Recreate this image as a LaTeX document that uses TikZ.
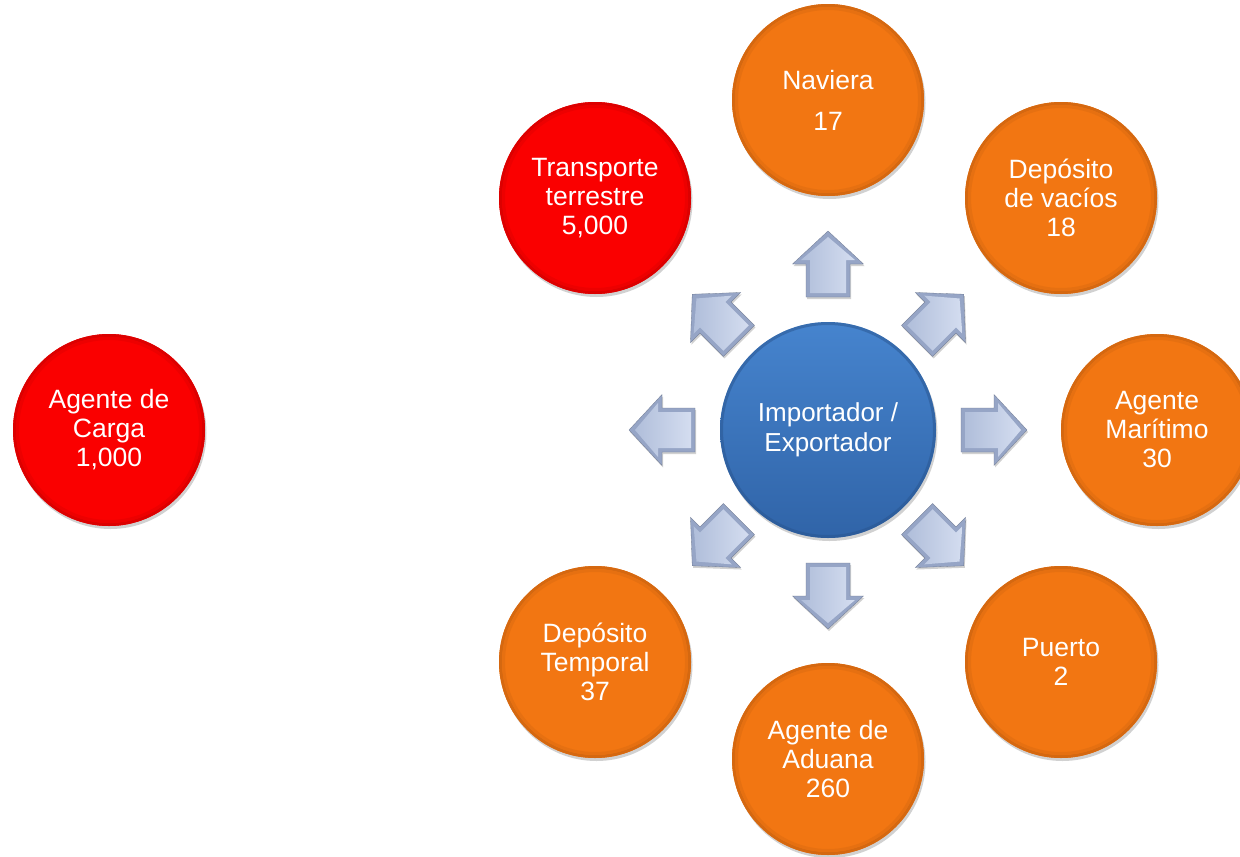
\documentclass[tikz,border=0pt]{standalone}
\usepackage{fontspec}
\setmainfont{Liberation Sans}
\usetikzlibrary{shadows,calc}
\definecolor{org}{RGB}{242,118,18}
\definecolor{rd}{RGB}{250,0,0}
\definecolor{bltop}{RGB}{70,132,206}
\definecolor{blbot}{RGB}{48,100,168}
\definecolor{arrdark}{RGB}{150,165,198}
\definecolor{arrlight}{RGB}{212,221,240}
\definecolor{arrmid}{RGB}{176,190,218}
\tikzset{
  ballbase/.style={circle, inner sep=0pt, text=white, align=center,
    font=\fontsize{26.5}{29}\selectfont,
    drop shadow={opacity=0.18, shadow xshift=1.5pt, shadow yshift=-3pt, fill=black}},
  smallball/.style={ballbase, minimum size=192pt, fill=#1,
    path picture={
      \fill[#1!88!black, even odd rule] (path picture bounding box.center)
        circle[radius=97pt] circle[radius=93pt];
      \fill[#1!95!black, even odd rule] (path picture bounding box.center)
        circle[radius=93pt] circle[radius=90pt];
    }},
  bigball/.style={ballbase, minimum size=216pt, top color=bltop, bottom color=blbot,
    path picture={
      \fill[blbot!85!black, opacity=0.5, even odd rule] (path picture bounding box.center)
        circle[radius=109pt] circle[radius=105pt];
    }},
  arrouter/.style={fill=arrdark, draw=arrdark!75!black, line width=0.3pt,
    drop shadow={opacity=0.18, shadow xshift=1pt, shadow yshift=-2pt, fill=black}},
  arrinner/.style={left color=arrmid, right color=arrlight},
}
\newcommand{\blockarrow}[2]{%
  \begin{scope}[shift={(828,430)}, rotate=#1]
    \pgfmathsetmacro{\sa}{#2-33}
    \path[arrouter] (\sa,-22) -- ({\sa+33},-22) -- ({\sa+33},-35.5) -- ({\sa+66},0)
      -- ({\sa+33},35.5) -- ({\sa+33},22) -- (\sa,22) -- cycle;
    \path[arrinner] ({\sa+4},-18) -- ({\sa+37},-18) -- ({\sa+37},-27) -- ({\sa+60},0)
      -- ({\sa+37},27) -- ({\sa+37},18) -- ({\sa+4},18) -- cycle;
  \end{scope}}
\begin{document}
\begin{tikzpicture}[x=1pt,y=-1pt]
\useasboundingbox (0,0) rectangle (1240,857);
\fill[white] (0,0) rectangle (1240,857);

\blockarrow{90}{166}
\blockarrow{135}{159}
\blockarrow{180}{166}
\blockarrow{225}{159}
\blockarrow{270}{166}
\blockarrow{315}{159}
\blockarrow{0}{166}
\blockarrow{45}{159}

\node[smallball=rd] (carga) at (109,430) {Agente de\\Carga\\1,000};
\node[smallball=rd] (terrestre) at (595,198) {Transporte\\terrestre\\5,000};
\node[smallball=org] (naviera) at (828,100) {Naviera\\[12pt]17};
\node[smallball=org] (vacios) at (1061,198) {Depósito\\de vacíos\\18};
\node[smallball=org] (maritimo) at (1157,430) {Agente\\Marítimo\\30};
\node[smallball=org] (puerto) at (1061,662) {Puerto\\2};
\node[smallball=org] (aduana) at (828,759) {Agente de\\Aduana\\260};
\node[smallball=org] (temporal) at (595,662) {Depósito\\Temporal\\37};
\node[bigball, font=\fontsize{26}{30}\selectfont] (centro) at (828,430) {Importador /\\Exportador};
\end{tikzpicture}
\end{document}
